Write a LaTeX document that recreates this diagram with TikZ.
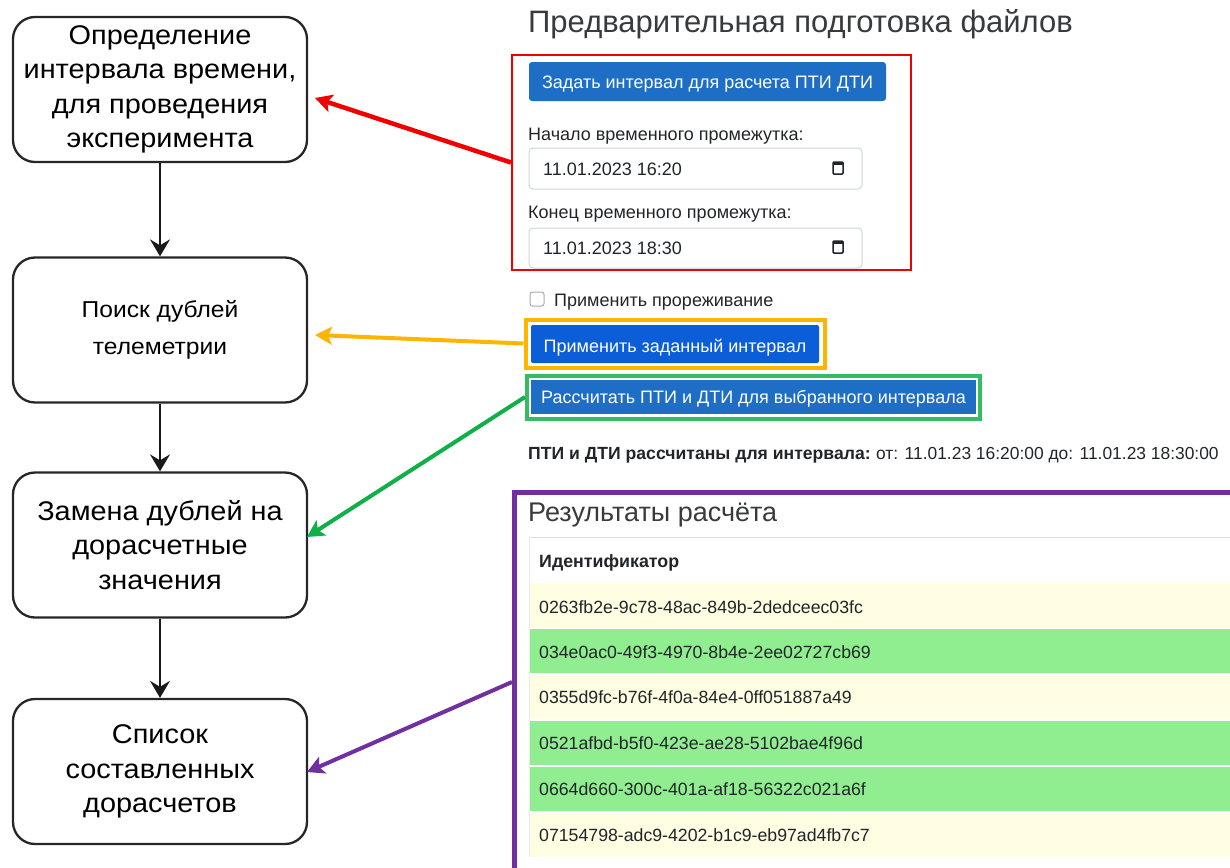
\documentclass[tikz,border=0pt]{standalone}
\usepackage{fontspec}
\setmainfont{Liberation Sans}
\newfontfamily\ui{Liberation Sans}
\newfontfamily\flow[FakeStretch=1.07]{Liberation Sans}
\usetikzlibrary{arrows.meta}
\definecolor{txt}{HTML}{212529}
\definecolor{btnA}{HTML}{1E6EC6}
\definecolor{btnB}{HTML}{0B5ED7}
\definecolor{rowY}{HTML}{FFFDE2}
\definecolor{rowG}{HTML}{90EE90}
\definecolor{redc}{HTML}{F20000}
\definecolor{orangec}{HTML}{FFB400}
\definecolor{greenc}{HTML}{10B048}
\definecolor{purplec}{HTML}{7030A0}
\definecolor{bordc}{HTML}{CED4DA}
\tikzset{
  flowbox/.style={draw=black!85, line width=2.3pt, rounded corners=22pt, minimum width=294pt, minimum height=145pt, align=center, inner sep=0pt},
  flowarrow/.style={draw=black!90, line width=2pt, -{Stealth[length=17pt,width=20pt,inset=6pt]}},
  colarrow/.style={line width=4.5pt, -{Stealth[length=17pt,width=18pt,inset=4pt]}},
  uitext/.style={anchor=base west, inner sep=0pt, text=txt, font=\ui\fontsize{18}{20}\selectfont},
  btntext/.style={anchor=base, inner sep=0pt, text=white, font=\ui\fontsize{18}{20}\selectfont},
  inbox/.style={draw=bordc, line width=1pt, rounded corners=4pt, fill=white},
  rowtext/.style={anchor=base west, inner sep=0pt, text=txt, font=\ui\fontsize{17.7}{20}\selectfont},
}
\begin{document}
\begin{tikzpicture}[x=1pt,y=-1pt]
\useasboundingbox (0,0) rectangle (1230,867);
\clip (0,0) rectangle (1230,867);
% ---------- left flow ----------
\node[flowbox, font=\flow\fontsize{27}{34.5}\selectfont] (b1) at (160,89.5) {Определение\\интервала времени,\\для проведения\\эксперимента};
\node[flowbox, font=\flow\fontsize{23}{37}\selectfont] (b2) at (160,330) {Поиск дублей\\телеметрии};
\node[flowbox, font=\flow\fontsize{27}{34.5}\selectfont] (b3) at (160,545) {Замена дублей на\\дорасчетные\\значения};
\node[flowbox, font=\flow\fontsize{27}{34.5}\selectfont] (b4) at (160,771.5) {Список\\составленных\\дорасчетов};
\draw[flowarrow] (b1) -- (b2);
\draw[flowarrow] (b2) -- (b3);
\draw[flowarrow] (b3) -- (b4);
% ---------- right UI ----------
\node[anchor=base west, inner sep=0pt, text=txt!90, font=\ui\fontsize{31}{33}\selectfont] (title) at (528,33) {Предварительная подготовка файлов};
% red group
\node[draw=redc, line width=2pt, minimum width=399pt, minimum height=215pt, inner sep=0pt] (redbox) at (711.5,162.5) {};
\fill[btnA, rounded corners=3pt] (529,62) rectangle (886,101);
\node[btntext] (btn1) at (707.5,88) {Задать интервал для расчета ПТИ ДТИ};
\node[uitext] (lab1) at (528,140) {Начало временного промежутка:};
\draw[inbox] (529,148) rectangle (862,189);
\node[uitext] (d1) at (543,175) {11.01.2023 16:20};
\draw[txt, line width=1.5pt, fill=white, rounded corners=1pt] (833,162) rectangle (843,174);
\draw[txt, line width=3pt] (833,163) -- (843,163);
\node[uitext] (lab2) at (528,218) {Конец временного промежутка:};
\draw[inbox] (529,228) rectangle (862,268);
\node[uitext] (d2) at (543,254) {11.01.2023 18:30};
\draw[txt, line width=1.5pt, fill=white, rounded corners=1pt] (833,241) rectangle (843,253);
\draw[txt, line width=3pt] (833,242) -- (843,242);
% checkbox
\draw[bordc!80!black, line width=1pt, rounded corners=2.5pt, fill=white] (530,292) rectangle (544,306);
\node[uitext] (chk) at (554,306) {Применить прореживание};
% orange
\node[draw=orangec, line width=4pt, minimum width=299pt, minimum height=48pt, inner sep=0pt] (orbox) at (675,343.5) {};
\fill[btnB, rounded corners=2pt] (531,325) rectangle (819,363);
\node[btntext] (btn2) at (675,352) {Применить заданный интервал};
% green
\node[draw=greenc!85!white, line width=4pt, minimum width=453pt, minimum height=43pt, inner sep=0pt] (grbox) at (753.5,397) {};
\fill[btnA] (531,380) rectangle (976,414);
\node[btntext] (btn3) at (753.5,403) {Рассчитать ПТИ и ДТИ для выбранного интервала};
% result line
\node[uitext, font=\ui\fontsize{17.6}{20}\selectfont] (res) at (528,459) {\textbf{ПТИ и ДТИ рассчитаны для интервала:}\hspace{-1pt} {\fontsize{17.4}{20}\selectfont от: 11.01.23 16:20:00 до: 11.01.23 18:30:00}};
% purple group
\draw[purplec, line width=5pt] (514,880) -- (514,492) -- (1240,492);
\node[anchor=base west, inner sep=0pt, text=txt!90, font=\ui\fontsize{27}{29}\selectfont] (restitle) at (528,521) {Результаты расчёта};
\draw[black!12, line width=1pt, fill=white] (529,537) rectangle (1240,583);
\node[rowtext, font=\ui\bfseries\fontsize{17.8}{20}\selectfont] (hdr) at (539,567) {Идентификатор};
\fill[rowY] (529,583) rectangle (1240,627);
\fill[rowG] (529,629) rectangle (1240,673);
\fill[rowY] (529,675) rectangle (1240,719);
\fill[rowG] (529,721) rectangle (1240,765);
\fill[rowG] (529,767) rectangle (1240,811);
\fill[rowY] (529,813) rectangle (1240,857);
\draw[black!8, line width=1pt] (529,536) -- (529,857);
\node[rowtext] (r1) at (539,613) {0263fb2e-9c78-48ac-849b-2dedceec03fc};
\node[rowtext] (r2) at (539,658) {034e0ac0-49f3-4970-8b4e-2ee02727cb69};
\node[rowtext] (r3) at (539,703) {0355d9fc-b76f-4f0a-84e4-0ff051887a49};
\node[rowtext] (r4) at (539,749) {0521afbd-b5f0-423e-ae28-5102bae4f96d};
\node[rowtext] (r5) at (539,795) {0664d660-300c-401a-af18-56322c021a6f};
\node[rowtext] (r6) at (539,841) {07154798-adc9-4202-b1c9-eb97ad4fb7c7};
% ---------- coloured arrows ----------
\coordinate (redtip) at (315,98);
\coordinate (ortip) at (315,335);
\coordinate (grtip) at (307,537);
\coordinate (pustart) at (512,682);
\coordinate (putip) at (307,772);
\draw[colarrow, redc] (redbox.west) -- (redtip);
\draw[colarrow, orangec, line width=4pt] (orbox.west) -- (ortip);
\draw[colarrow, greenc, line width=4pt] (grbox.west) -- (grtip);
\draw[colarrow, purplec, line width=4pt] (pustart) -- (putip);
\end{tikzpicture}
\end{document}
